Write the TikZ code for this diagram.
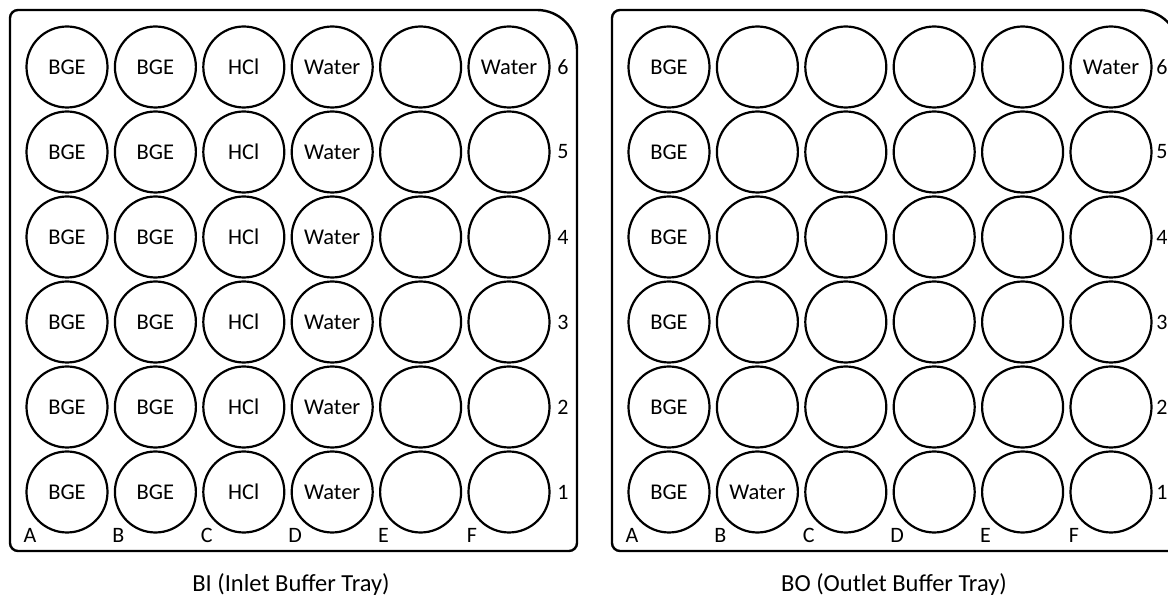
\documentclass[tikz,border=0pt]{standalone}
\usepackage{fontspec}
\setmainfont{Carlito}
\begin{document}
\begin{tikzpicture}[x=1pt,y=1pt,
  well/.style={circle,draw,line width=2.2pt,minimum size=81pt,inner sep=0pt,font=\fontsize{22.5}{24}\selectfont},
  tray/.style={line width=2.4pt},
  lbl/.style={font=\fontsize{22}{24}\selectfont,inner sep=0pt},
  captxt/.style={font=\fontsize{24.5}{28}\selectfont,inner sep=0pt}]
\useasboundingbox (0,0) rectangle (1168,605);
\clip (0,0) rectangle (1168,605);
\fill[white] (0,0) rectangle (1168,605);
% trays
\foreach \ox in {0,602}{
  \draw[tray] (18+\ox,595) -- (537+\ox,595) arc[start angle=90,end angle=0,radius=40]
    -- (577+\ox,62) arc[start angle=0,end angle=-90,radius=8]
    -- (18+\ox,54) arc[start angle=-90,end angle=-180,radius=8]
    -- (10+\ox,587) arc[start angle=180,end angle=90,radius=8] -- cycle;
}
% left tray wells
\foreach \r in {1,...,6}{
  \pgfmathsetmacro\yy{113+85*(\r-1)}
  \node[well] (L-A-\r) at (67,\yy) {BGE};
  \node[well] (L-B-\r) at (155.4,\yy) {BGE};
  \node[well] (L-C-\r) at (243.8,\yy) {HCl};
  \node[well] (L-D-\r) at (332.2,\yy) {Water};
  \node[well] (L-E-\r) at (420.6,\yy) {};
  \node[lbl] (L-row-\r) at (563,\yy) {\r};
}
\foreach \r in {1,...,5}{
  \pgfmathsetmacro\yy{113+85*(\r-1)}
  \node[well] (L-F-\r) at (509,\yy) {};
}
\node[well] (L-F-6) at (509,538) {Water};
% right tray wells
\foreach \r in {1,...,6}{
  \pgfmathsetmacro\yy{113+85*(\r-1)}
  \node[well] (R-A-\r) at (669,\yy) {BGE};
  \node[well] (R-C-\r) at (845.8,\yy) {};
  \node[well] (R-D-\r) at (934.2,\yy) {};
  \node[well] (R-E-\r) at (1022.6,\yy) {};
  \node[lbl] (R-row-\r) at (1162,\yy) {\r};
}
\foreach \r in {2,...,6}{
  \pgfmathsetmacro\yy{113+85*(\r-1)}
  \node[well] (R-B-\r) at (757.4,\yy) {};
}
\node[well] (R-B-1) at (757.4,113) {Water};
\foreach \r in {1,...,5}{
  \pgfmathsetmacro\yy{113+85*(\r-1)}
  \node[well] (R-F-\r) at (1111,\yy) {};
}
\node[well] (R-F-6) at (1111,538) {Water};
% column labels
\foreach \c/\i in {A/0,B/1,C/2,D/3,E/4,F/5}{
  \node[lbl] (L-col-\c) at (30+88.4*\i,70) {\c};
  \node[lbl] (R-col-\c) at (632+88.4*\i,70) {\c};
}
% captions
\node[captxt] (capL) at (291,20) {BI (Inlet Buffer Tray)};
\node[captxt] (capR) at (894,20) {BO (Outlet Buffer Tray)};
\end{tikzpicture}
\end{document}
